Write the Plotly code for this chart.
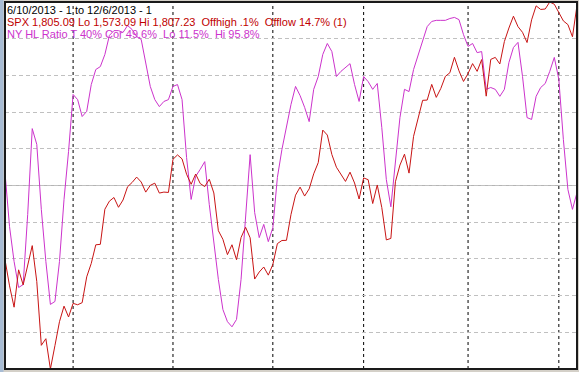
import pandas as pd
import plotly.graph_objects as go

# Trading days 6/10/2013 .. 12/6/2013
holidays = ["2013-07-04", "2013-09-02", "2013-11-28"]
dates = [d for d in pd.bdate_range("2013-06-10", "2013-12-06") if d.strftime("%Y-%m-%d") not in holidays]
date_labels = [d.strftime("%Y-%m-%d") for d in dates]

spx = [
    1642.81, 1626.13, 1612.52, 1636.36, 1626.73, 1639.04, 1651.81, 1628.93, 1588.19, 1592.43,
    1573.09, 1588.03, 1603.26, 1613.20, 1606.28,
    1614.96, 1614.08, 1615.41, 1631.89, 1640.46, 1652.32, 1652.62, 1675.02, 1680.19, 1682.50,
    1676.26, 1680.91, 1689.37, 1692.09, 1695.53, 1692.39, 1685.94, 1690.25, 1691.65, 1685.33,
    1685.96, 1685.73,
    1706.87, 1709.67, 1707.14, 1697.37, 1690.91, 1697.48, 1691.42, 1689.47, 1694.16, 1685.39,
    1661.32, 1655.83, 1646.06, 1652.35, 1642.80, 1656.96, 1663.50, 1656.78, 1630.48, 1634.96,
    1638.17, 1632.97,
    1639.77, 1653.08, 1655.08, 1655.17, 1671.71, 1683.99, 1689.13, 1683.42, 1687.99, 1697.60,
    1704.76, 1725.52, 1722.34, 1709.91, 1701.84, 1697.42, 1692.77, 1698.67, 1691.75, 1681.55,
    1695.00, 1693.87, 1678.66, 1690.50, 1676.12, 1655.45, 1656.40, 1692.56, 1703.20, 1710.14,
    1698.06, 1721.54, 1733.15, 1744.50, 1744.66, 1754.67, 1746.38, 1752.07, 1759.77, 1762.11,
    1771.95, 1763.31, 1756.54,
    1761.64, 1767.93, 1762.97, 1770.49, 1747.15, 1770.61, 1771.89, 1767.69, 1782.00, 1790.62,
    1798.18, 1791.53, 1787.87, 1781.37, 1795.85, 1804.76, 1802.48, 1802.75, 1807.23, 1805.81,
    1800.90, 1795.15, 1792.81, 1785.03, 1805.09,
]

hl_ratio = [
    53.5, 38.8, 29.3, 22.2, 23.0, 42.1, 65.5, 61.2, 43.5, 29.3,
    17.6, 18.4, 29.3, 46.2, 59.3, 74.8, 73.4, 68.8, 70.2, 77.5,
    81.6, 82.4, 85.7, 90.9, 92.2, 92.2, 91.7, 93.6, 92.5, 90.6,
    89.8, 83.8, 77.0, 73.4, 71.5, 72.9, 73.4, 77.0, 77.5, 73.4,
    57.6, 46.2, 52.5, 54.4, 56.5, 44.8, 34.5, 24.4, 16.2, 12.9,
    11.5, 13.5, 24.4, 41.3, 58.4, 42.6, 35.8, 39.4, 34.7, 38.5,
    52.2, 59.8, 65.8, 72.1, 77.0, 74.5, 71.3, 67.4, 76.2, 79.7,
    85.7, 88.7, 86.5, 79.7, 81.1, 82.2, 83.2, 77.5, 72.9, 79.7,
    78.3, 76.2, 77.8, 65.8, 51.6, 44.2, 57.1, 68.5, 76.2, 75.6,
    81.6, 85.7, 89.8, 93.3, 94.7, 95.0, 95.0, 95.0, 95.5, 95.8,
    95.2, 91.1, 87.9, 88.7, 86.2, 86.5, 76.2, 76.7, 76.2, 74.3,
    76.2, 83.5, 87.6, 89.0, 79.7, 68.5, 68.0, 74.3, 76.7, 77.8,
    81.1, 84.9, 78.9, 62.5, 48.9, 43.5, 48.1,
]

RED = "#c81414"
MAG = "#cc33cc"

lo, hi, last = min(spx), max(spx), spx[-1]
offhigh = (hi - last) / hi * 100
offlow = (last - lo) / lo * 100

line1 = "6/10/2013 - 1 to 12/6/2013 - 1"
line2 = f"SPX {last:,.2f} Lo {lo:,.2f} Hi {hi:,.2f}  Offhigh {offhigh:.1f}%  Offlow {offlow:.1f}% (1)".replace(" 0.", " .")
line3 = f"NY HL Ratio T 40% Cor 49.6%  Lo {min(hl_ratio):.1f}%  Hi {max(hl_ratio):.1f}%"

fig = go.Figure()
fig.add_trace(go.Scatter(x=date_labels, y=hl_ratio, mode="lines", line=dict(color=MAG, width=1), yaxis="y"))
fig.add_trace(go.Scatter(x=date_labels, y=spx, mode="lines", line=dict(color=RED, width=1), yaxis="y2"))

shapes = []
# month boundaries
for k in range(1, len(dates)):
    if dates[k].month != dates[k - 1].month:
        shapes.append(dict(type="line", xref="x", yref="paper", x0=date_labels[k], x1=date_labels[k],
                           y0=0, y1=1, line=dict(color="black", width=1, dash="3px,3px"), layer="below"))
# solid midline at 50%
shapes.append(dict(type="line", xref="paper", yref="y", x0=0, x1=1, y0=50, y1=50,
                   line=dict(color="#b4b4b4", width=1), layer="below"))
# left strip
shapes.append(dict(type="rect", xref="paper", yref="paper", x0=-5 / 572, x1=-1.5 / 572, y0=-0.02, y1=1.01,
                   fillcolor="#a8bcd4", line=dict(width=0), layer="below"))
# frame
shapes.append(dict(type="rect", xref="paper", yref="paper", x0=0, x1=1, y0=0, y1=1,
                   line=dict(color="#1a1a1a", width=2), layer="above"))

ann_font = "Liberation Sans, Arial, sans-serif"
annotations = [
    dict(text=line1, xref="paper", yref="paper", x=0, y=1, xanchor="left", yanchor="top", xshift=0, yshift=0,
         showarrow=False, font=dict(family=ann_font, size=11, color="black")),
    dict(text=line2, xref="paper", yref="paper", x=0, y=1, xanchor="left", yanchor="top", xshift=0, yshift=-12,
         showarrow=False, font=dict(family=ann_font, size=11, color="#c00000")),
    dict(text=line3, xref="paper", yref="paper", x=0, y=1, xanchor="left", yanchor="top", xshift=0, yshift=-24,
         showarrow=False, font=dict(family=ann_font, size=11, color=MAG)),
]

fig.update_layout(
    width=579, height=372, autosize=False,
    margin=dict(l=5, r=2, t=2, b=3, pad=0, autoexpand=False),
    paper_bgcolor="#d4d0c8", plot_bgcolor="white",
    showlegend=False, hovermode=False,
    xaxis=dict(type="category", range=[0, len(dates) - 1], showticklabels=False, showgrid=False,
               zeroline=False, ticks=""),
    yaxis=dict(range=[0, 100], dtick=10, showticklabels=False, showgrid=True, gridcolor="#c0c0c0",
               griddash="4px,3px", gridwidth=1, zeroline=False, ticks=""),
    yaxis2=dict(range=[lo, hi], overlaying="y", showticklabels=False, showgrid=False, zeroline=False, ticks=""),
    shapes=shapes, annotations=annotations,
)

fig.write_html(
    "out.html",
    config={"displayModeBar": False},
    post_script="document.body.style.margin='0';document.body.style.overflow='hidden';",
)
